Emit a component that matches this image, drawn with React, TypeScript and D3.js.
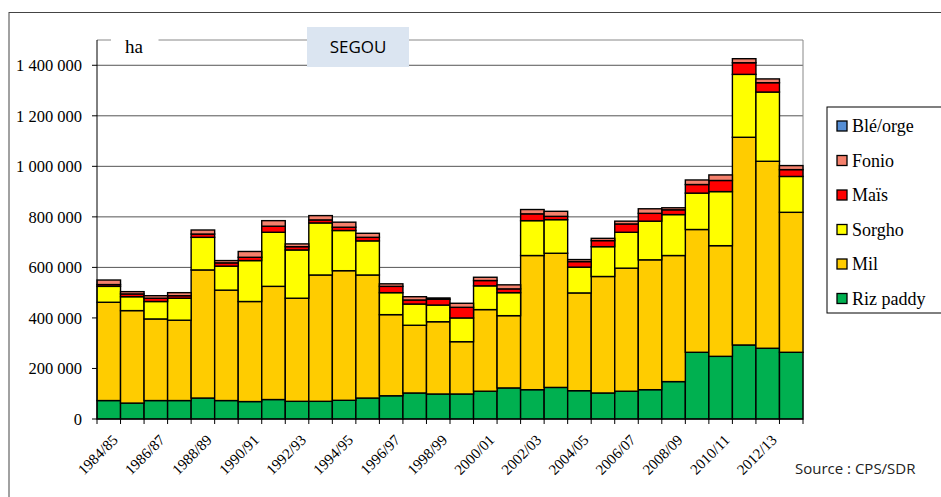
import React, { useEffect } from 'react';
import * as d3 from 'd3';

const years = [
  '1984/85', '1985/86', '1986/87', '1987/88', '1988/89', '1989/90', '1990/91', '1991/92',
  '1992/93', '1993/94', '1994/95', '1995/96', '1996/97', '1997/98', '1998/99', '1999/00',
  '2000/01', '2001/02', '2002/03', '2003/04', '2004/05', '2005/06', '2006/07', '2007/08',
  '2008/09', '2009/10', '2010/11', '2011/12', '2012/13', '2013/14',
];

// surfaces (ha)
const riz = [73000, 63000, 73000, 73000, 83000, 73000, 69000, 77000, 70000, 70000, 74000, 83000, 92000, 103000, 99000, 99000, 110000, 123000, 116000, 125000, 112000, 103000, 110000, 116000, 148000, 264000, 248000, 293000, 280000, 264000];
const mil = [389000, 366000, 323000, 318000, 507000, 437000, 396000, 448000, 408000, 500000, 513000, 487000, 321000, 268000, 286000, 207000, 323000, 286000, 531000, 531000, 387000, 461000, 487000, 514000, 499000, 486000, 438000, 822000, 740000, 554000];
const sorgho = [63000, 55000, 69000, 87000, 129000, 95000, 162000, 214000, 191000, 206000, 159000, 135000, 87000, 84000, 66000, 94000, 94000, 91000, 138000, 133000, 102000, 118000, 142000, 153000, 162000, 144000, 214000, 249000, 274000, 142000];
const mais = [7000, 11000, 13000, 10000, 13000, 13000, 13000, 24000, 13000, 12000, 13000, 14000, 25000, 16000, 23000, 42000, 21000, 15000, 27000, 13000, 22000, 24000, 33000, 31000, 19000, 34000, 44000, 46000, 37000, 27000];
const fonio = [18000, 9000, 10000, 12000, 16000, 9000, 23000, 22000, 11000, 17000, 20000, 16000, 10000, 13000, 5000, 16000, 13000, 16000, 17000, 20000, 8000, 9000, 11000, 18000, 8000, 18000, 22000, 16000, 15000, 16000];
const ble = [0, 0, 0, 0, 0, 0, 0, 0, 0, 0, 0, 0, 0, 0, 0, 0, 0, 0, 0, 0, 0, 0, 0, 0, 0, 0, 0, 0, 0, 0];

const seriesNames = ['Riz paddy', 'Mil', 'Sorgho', 'Maïs', 'Fonio', 'Blé/orge'];
const seriesValues = [riz, mil, sorgho, mais, fonio, ble];
const colors = ['#00b050', '#ffcc00', '#ffff00', '#ff0000', '#f4806c', '#558ed5'];
const yTicks = [0, 200000, 400000, 600000, 800000, 1000000, 1200000, 1400000];

const serif = 'Liberation Serif, DejaVu Serif, serif';
const sans = 'Open Sans, Liberation Sans, sans-serif';

export default function App() {
  useEffect(() => {
    document.body.style.margin = '0';
  }, []);

  const left = 97, right = 803, top = 40, bottom = 419;

  const table = years.map((yr, i) => {
    const row: any = { year: yr };
    seriesNames.forEach((s, j) => (row[s] = seriesValues[j][i]));
    return row;
  });
  const stack = d3.stack().keys(seriesNames)(table);

  const x = d3.scaleBand().domain(years).range([left, right]).padding(0);
  const y = d3.scaleLinear().domain([0, 1500000]).range([bottom, top]);
  const fmt = (v: number) => d3.format(',')(v).replace(/,/g, ' ');

  const legendOrder = [...seriesNames].reverse();

  return (
    <svg width={941} height={497} style={{ display: 'block', background: '#fff' }}>
      {/* outer frame */}
      <rect x={9} y={12.5} width={960} height={510} fill="none" stroke="#444" strokeWidth={1} />

      {/* grid */}
      {yTicks.slice(1).map((t) => (
        <line key={t} x1={left} x2={right} y1={y(t)} y2={y(t)} stroke="#555" strokeWidth={1} />
      ))}
      {/* plot border */}
      <line x1={left} x2={111} y1={top} y2={top} stroke="#888" />
      <line x1={158.5} x2={right} y1={top} y2={top} stroke="#888" />
      <line x1={right} x2={right} y1={top} y2={bottom} stroke="#888" />

      {/* bars */}
      {stack.map((layer, j) => (
        <g key={seriesNames[j]}>
          {layer.map((d: any, i: number) =>
            d[1] - d[0] > 0 ? (
              <rect
                key={i}
                x={x(years[i])!}
                width={x.bandwidth()}
                y={y(d[1])}
                height={y(d[0]) - y(d[1])}
                fill={colors[j]}
                stroke="#000"
                strokeWidth={1.4}
              />
            ) : null
          )}
        </g>
      ))}

      {/* y axis */}
      <line x1={left} x2={left} y1={top} y2={bottom} stroke="#000" />
      {yTicks.map((t) => (
        <g key={t}>
          <line x1={left - 5} x2={left} y1={y(t)} y2={y(t)} stroke="#000" />
          <text x={82} y={y(t)} dy="0.35em" textAnchor="end" style={{ fontFamily: serif, fontSize: 16.5 }} fill="#000">
            {fmt(t)}
          </text>
        </g>
      ))}

      {/* x axis */}
      <line x1={left} x2={right} y1={bottom} y2={bottom} stroke="#000" />
      {years.map((yr) => (
        <line key={yr} x1={x(yr)!} x2={x(yr)!} y1={bottom} y2={bottom + 5} stroke="#000" />
      ))}
      <line x1={right} x2={right} y1={bottom} y2={bottom + 5} stroke="#000" />
      {years.map((yr, i) =>
        i % 2 === 0 ? (
          <text
            key={yr}
            transform={`translate(${x(yr)! + x.bandwidth() / 2 + 10},${bottom + 22}) rotate(-45)`}
            textAnchor="end"
            style={{ fontFamily: serif, fontSize: 15 }}
            fill="#000"
          >
            {yr}
          </text>
        ) : null
      )}

      {/* unit + title */}
      <text x={125} y={52.5} style={{ fontFamily: serif, fontSize: 19 }} fill="#000">ha</text>
      <rect x={307} y={27} width={102} height={40} fill="#dbe5f1" />
      <text x={358} y={47} dy="0.35em" textAnchor="middle" style={{ fontFamily: sans, fontSize: 17 }} fill="#000">
        SEGOU
      </text>

      {/* legend */}
      <rect x={827} y={107} width={130} height={206} fill="#fff" stroke="#000" />
      {legendOrder.map((name, k) => {
        const j = seriesNames.indexOf(name);
        const cy = 126 + k * 34.5;
        return (
          <g key={name}>
            <rect x={837} y={cy - 5} width={10} height={10} fill={colors[j]} stroke="#000" strokeWidth={1.3} />
            <text x={852} y={cy} dy="0.35em" style={{ fontFamily: serif, fontSize: 18 }} fill="#000">
              {name}
            </text>
          </g>
        );
      })}

      <text x={795} y={474} style={{ fontFamily: sans, fontSize: 15 }} fill="#222">Source : CPS/SDR</text>
    </svg>
  );
}
